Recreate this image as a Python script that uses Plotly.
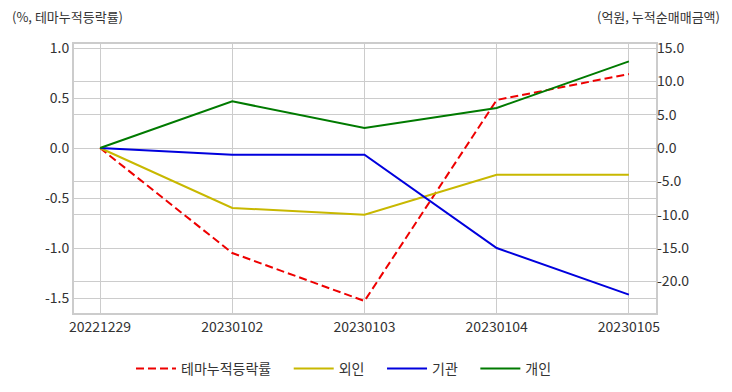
import plotly.graph_objects as go

dates = ["20221229", "20230102", "20230103", "20230104", "20230105"]
theme_rate = [0.0, -1.05, -1.53, 0.48, 0.74]
foreign = [0.0, -9.0, -10.0, -4.0, -4.0]
institution = [0.0, -1.0, -1.0, -15.0, -22.0]
individual = [0.0, 7.0, 3.0, 6.0, 13.0]

left_ticks = [1.0, 0.5, 0.0, -0.5, -1.0, -1.5]
right_ticks = [15.0, 10.0, 5.0, 0.0, -5.0, -10.0, -15.0, -20.0]

FONT = "Noto Sans CJK KR"
TXT = "#333333"
GRID = "#cccccc"
PAD = "\u00a0" * 4  # spacing between legend entries

fig = go.Figure()
x_idx = list(range(len(dates)))
fig.add_trace(go.Scatter(x=x_idx, y=theme_rate, name="테마누적등락률" + PAD, mode="lines",
                         line=dict(color="#ee0000", width=2, dash="8px,4px"), yaxis="y"))
fig.add_trace(go.Scatter(x=x_idx, y=foreign, name="외인" + PAD, mode="lines",
                         line=dict(color="#c8b800", width=2), yaxis="y2"))
fig.add_trace(go.Scatter(x=x_idx, y=institution, name="기관" + PAD, mode="lines",
                         line=dict(color="#0000dd", width=2), yaxis="y2"))
fig.add_trace(go.Scatter(x=x_idx, y=individual, name="개인", mode="lines",
                         line=dict(color="#007a00", width=2), yaxis="y2"))

# page body has an 8px margin; figure coordinates are page coordinates minus 8
OFF = 8
W, H = 732 - OFF, 392 - OFF
L, T = 74 - OFF, 44 - OFF
R = W - (656 - OFF)
B = H - (313 - OFF)
pw, ph = W - L - R, H - T - B


def px(x):
    return (x - OFF - L) / pw


def py(y):
    return (H - B - (y - OFF)) / ph


fig.update_layout(
    width=W, height=H,
    margin=dict(l=L, r=R, t=T, b=B, autoexpand=False),
    paper_bgcolor="white", plot_bgcolor="white",
    font=dict(family=FONT, size=14, color=TXT),
    showlegend=True,
    legend=dict(orientation="h", x=px(344), xanchor="center",
                y=py(369), yanchor="middle",
                font=dict(size=14, color=TXT), itemwidth=40),
    xaxis=dict(
        range=[-0.197, 4.205], automargin=False,
        tickmode="array", tickvals=x_idx, ticktext=dates,
        showgrid=True, gridcolor=GRID, gridwidth=1,
        showline=True, linecolor=GRID, linewidth=2, mirror=True,
        zeroline=False, ticks="", tickfont=dict(size=14, color=TXT),
    ),
    yaxis=dict(
        range=[-1.65, 1.04], automargin=False,
        tickmode="array", tickvals=left_ticks,
        ticktext=[f"{v:.1f}" for v in left_ticks],
        showgrid=True, gridcolor=GRID, gridwidth=1,
        showline=True, linecolor=GRID, linewidth=2, mirror=True,
        zeroline=False, ticks="", tickfont=dict(size=14, color=TXT),
    ),
    yaxis2=dict(
        range=[-24.75, 15.6], overlaying="y", side="right", automargin=False,
        tickmode="array", tickvals=right_ticks,
        ticktext=[f"{v:.1f}" for v in right_ticks],
        showgrid=True, gridcolor=GRID, gridwidth=1,
        zeroline=False, ticks="", tickfont=dict(size=14, color=TXT),
    ),
    annotations=[
        dict(text="(%, 테마누적등락률)", xref="paper", yref="paper", x=px(10),
             y=py(16), xanchor="left", yanchor="middle", showarrow=False,
             font=dict(size=13, color=TXT)),
        dict(text="(억원, 누적순매매금액)", xref="paper", yref="paper", x=px(722),
             y=py(16), xanchor="right", yanchor="middle", showarrow=False,
             font=dict(size=13, color=TXT)),
    ],
)

fig.write_html("out.html")
